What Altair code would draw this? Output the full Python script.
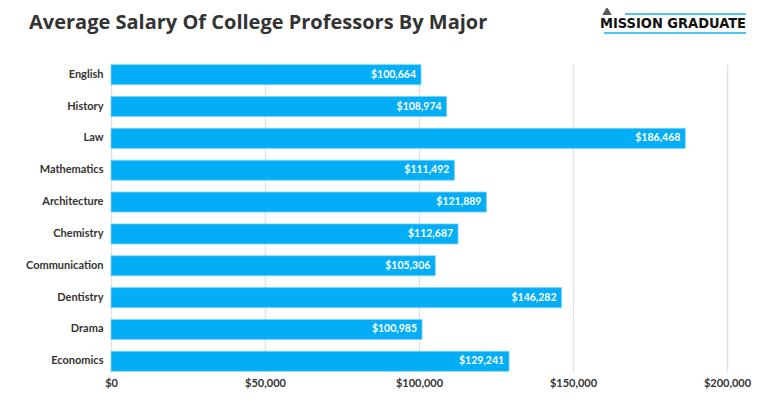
import altair as alt
import pandas as pd

majors = ["English", "History", "Law", "Mathematics", "Architecture", "Chemistry",
          "Communication", "Dentistry", "Drama", "Economics"]
salaries = [100664, 108974, 186468, 111492, 121889, 112687, 105306, 146282, 100985, 129241]
x_ticks = [0, 50000, 100000, 150000, 200000]

df = pd.DataFrame({"major": majors, "salary": salaries})
df["label"] = ["${:,}".format(v) for v in salaries]

FONT = "Lato"
BLUE = "#03AEF6"

base = alt.Chart(df)

bars = base.mark_bar(color=BLUE, stroke="#7fd3f9", strokeWidth=0.8).encode(
    x=alt.X("salary:Q", scale=alt.Scale(domain=[0, 200000], nice=False),
            axis=alt.Axis(values=x_ticks, labelExpr="'$' + format(datum.value, ',')",
                          title=None, grid=True, gridColor="#e3e3e3", gridWidth=1.5,
                          ticks=False, domain=False, labelFont=FONT, labelFontSize=11,
                          labelFontWeight="bold", labelColor="#333333", labelPadding=5,
                          labelFlush=False, labelOverlap=False)),
    y=alt.Y("major:N", sort=majors,
            scale=alt.Scale(paddingInner=0.37, paddingOuter=0.02),
            axis=alt.Axis(title=None, ticks=False, domain=False, grid=False, labelFont=FONT,
                          labelFontSize=11, labelFontWeight="bold", labelColor="#333333",
                          labelPadding=8)),
)

labels = base.mark_text(align="right", baseline="middle", dx=-5, color="white",
                        font=FONT, fontSize=10.5, fontWeight="bold").encode(
    x=alt.X("salary:Q"),
    y=alt.Y("major:N", sort=majors),
    text="label:N",
)

one = pd.DataFrame({"t": ["Average Salary Of College Professors By Major"]})
title = alt.Chart(one).mark_text(align="left", baseline="alphabetic", font="Open Sans",
                                 fontSize=20, fontWeight="bold", color="#333333").encode(
    x=alt.value(-82), y=alt.value(-35), text="t:N")

logo_df = pd.DataFrame({"t": ["MISSION GRADUATE"]})
logo = alt.Chart(logo_df).mark_text(align="left", baseline="alphabetic",
                                    font="DejaVu Sans Condensed", fontSize=14.5,
                                    fontWeight="bold", color="#111111").encode(
    x=alt.value(489), y=alt.value(-36), text="t:N")

line_top = alt.Chart(logo_df).mark_rule(color="#4FC3F7", strokeWidth=2).encode(
    x=alt.value(514), x2=alt.value(635), y=alt.value(-50))
line_bot = alt.Chart(logo_df).mark_rule(color="#4FC3F7", strokeWidth=2).encode(
    x=alt.value(493), x2=alt.value(635), y=alt.value(-31))
hat = alt.Chart(logo_df).mark_point(shape="triangle-up", filled=True, color="#111111",
                                    size=90).encode(
    x=alt.value(496), y=alt.value(-53))

chart = alt.layer(bars, labels, title, logo, line_top, line_bot, hat).properties(
    width=616, height=308,
    background="white",
    autosize=alt.AutoSizeParams(type="none"),
    padding={"left": 103, "top": 56, "right": 25, "bottom": 31},
).configure_view(stroke=None)

chart.save("out.html", embed_options={"renderer": "svg", "actions": False})
